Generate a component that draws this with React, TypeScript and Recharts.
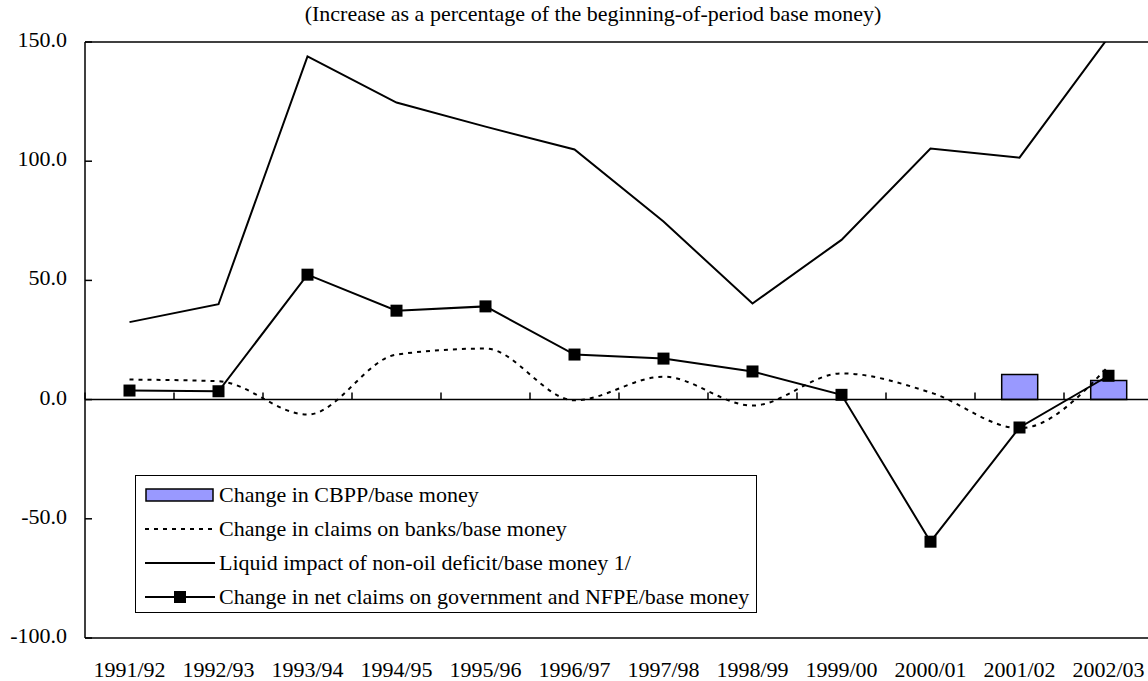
import React from "react";
import {
  ComposedChart,
  Bar,
  Line,
  XAxis,
  YAxis,
  ReferenceLine,
} from "recharts";

const categories = [
  "1991/92",
  "1992/93",
  "1993/94",
  "1994/95",
  "1995/96",
  "1996/97",
  "1997/98",
  "1998/99",
  "1999/00",
  "2000/01",
  "2001/02",
  "2002/03",
];
const cbpp = [null, null, null, null, null, null, null, null, null, null, 10.5, 8];
const claimsBanks = [8.4, 7.7, -6.3, 18.9, 21.4, -0.3, 9.6, -2.5, 11, 3, -12, 14];
const liquidImpact = [32.5, 40, 144, 124.6, 114.5, 104.9, 74.7, 40.3, 67, 105.3, 101.5, 152];
const netClaims = [3.8, 3.5, 52.4, 37.3, 39.1, 18.9, 17.2, 11.8, 2, -59.6, -11.7, 10];
const yTicks = [-100, -50, 0, 50, 100, 150];

const title = "(Increase as a percentage of the beginning-of-period base money)";
const legendItems = [
  { key: "bar", label: "Change in CBPP/base money" },
  { key: "dot", label: "Change in claims on banks/base money" },
  { key: "line", label: "Liquid impact of non-oil deficit/base money 1/" },
  { key: "mark", label: "Change in net claims on government and NFPE/base money" },
];

const data = categories.map((c, i) => ({
  name: c,
  cbpp: cbpp[i],
  banks: claimsBanks[i],
  liquid: liquidImpact[i],
  net: netClaims[i],
}));

const FONT = "'Liberation Serif', 'Times New Roman', serif";
const FS = 22;
const CHART_W = 1160;
const CHART_H = 681;
const PLOT_LEFT = 85;
const PLOT_TOP = 42;
const PLOT_BOTTOM = 638;
const PLOT_RIGHT = 1153;
const Y_MIN = -100;
const Y_MAX = 150;
const BAND = (PLOT_RIGHT - PLOT_LEFT) / categories.length;
const ZERO_Y = PLOT_TOP + ((PLOT_BOTTOM - PLOT_TOP) * Y_MAX) / (Y_MAX - Y_MIN);

const XTick = (props: any) => {
  const { x, payload } = props;
  const left = x - BAND / 2;
  return (
    <g>
      <line x1={left} x2={left} y1={ZERO_Y - 7} y2={ZERO_Y} stroke="#000" strokeWidth={1.5} />
      <text
        x={x}
        y={PLOT_BOTTOM + 34}
        textAnchor="middle"
        dominantBaseline="middle"
        fontFamily={FONT}
        fontSize={FS}
        fill="#000"
      >
        {payload.value}
      </text>
    </g>
  );
};

const YTick = (props: any) => {
  const { y, payload } = props;
  return (
    <g>
      <line x1={PLOT_LEFT} x2={PLOT_LEFT + 7} y1={y} y2={y} stroke="#000" strokeWidth={1.5} />
      <text
        x={PLOT_LEFT - 18}
        y={y}
        textAnchor="end"
        dominantBaseline="middle"
        fontFamily={FONT}
        fontSize={FS}
        fill="#000"
      >
        {Number(payload.value).toFixed(1)}
      </text>
    </g>
  );
};

const SquareDot = (props: any) => {
  const { cx, cy, index } = props;
  if (cx == null || cy == null) return null;
  return <rect key={index} x={cx - 6} y={cy - 6} width={12} height={12} fill="#000" />;
};

const LegendIcon = ({ kind }: { kind: string }) => (
  <svg width={70} height={20} style={{ display: "block" }}>
    {kind === "bar" && (
      <rect x={1} y={4} width={67} height={12} fill="#9999FF" stroke="#000" strokeWidth={1.5} />
    )}
    {kind === "dot" && (
      <line x1={0} x2={70} y1={10} y2={10} stroke="#000" strokeWidth={2} strokeDasharray="4 5" />
    )}
    {kind === "line" && <line x1={0} x2={70} y1={10} y2={10} stroke="#000" strokeWidth={2} />}
    {kind === "mark" && (
      <g>
        <line x1={0} x2={70} y1={10} y2={10} stroke="#000" strokeWidth={2} />
        <rect x={29} y={4} width={12} height={12} fill="#000" />
      </g>
    )}
  </svg>
);

export default function App() {
  return (
    <div
      style={{
        position: "fixed",
        left: 0,
        top: 0,
        width: 1148,
        height: 681,
        overflow: "hidden",
        background: "#fff",
        fontFamily: FONT,
      }}
    >
      <div
        style={{
          position: "absolute",
          left: 293,
          top: 2,
          width: 600,
          textAlign: "center",
          fontSize: FS,
          lineHeight: "24px",
          color: "#000",
          whiteSpace: "nowrap",
        }}
      >
        {title}
      </div>
      <ComposedChart
        width={CHART_W}
        height={CHART_H}
        data={data}
        margin={{ top: PLOT_TOP, right: CHART_W - PLOT_RIGHT, bottom: 0, left: 0 }}
        barCategoryGap="30%"
      >
        <XAxis
          dataKey="name"
          height={CHART_H - PLOT_BOTTOM}
          axisLine={{ stroke: "#000", strokeWidth: 1.5 }}
          tickLine={false}
          tickSize={0}
          tickMargin={0}
          interval={0}
          tick={<XTick />}
        />
        <YAxis
          width={PLOT_LEFT}
          domain={[Y_MIN, Y_MAX]}
          ticks={yTicks}
          allowDataOverflow
          axisLine={{ stroke: "#000", strokeWidth: 1.5 }}
          tickLine={false}
          tickSize={0}
          tickMargin={0}
          tick={<YTick />}
        />
        <ReferenceLine y={Y_MAX} stroke="#000" strokeWidth={1.5} />
        <ReferenceLine y={0} stroke="#000" strokeWidth={1.5} />
        <Bar
          dataKey="cbpp"
          fill="#9999FF"
          stroke="#000"
          strokeWidth={1.5}
          isAnimationActive={false}
        />
        <Line
          type="monotone"
          dataKey="banks"
          stroke="#000"
          strokeWidth={2}
          strokeDasharray="4 5"
          dot={false}
          activeDot={false}
          isAnimationActive={false}
        />
        <Line
          type="linear"
          dataKey="liquid"
          stroke="#000"
          strokeWidth={2}
          dot={false}
          activeDot={false}
          isAnimationActive={false}
        />
        <Line
          type="linear"
          dataKey="net"
          stroke="#000"
          strokeWidth={2}
          dot={<SquareDot />}
          activeDot={false}
          isAnimationActive={false}
        />
      </ComposedChart>
      <div
        style={{
          position: "absolute",
          left: 135,
          top: 475,
          width: 622,
          height: 138,
          border: "1px solid #000",
          background: "#fff",
          boxSizing: "border-box",
          paddingTop: 2,
        }}
      >
        {legendItems.map((it) => (
          <div
            key={it.key}
            style={{ display: "flex", alignItems: "center", height: 34, whiteSpace: "nowrap" }}
          >
            <div style={{ marginLeft: 9, width: 70 }}>
              <LegendIcon kind={it.key} />
            </div>
            <span style={{ marginLeft: 4, fontSize: FS, color: "#000" }}>{it.label}</span>
          </div>
        ))}
      </div>
    </div>
  );
}
